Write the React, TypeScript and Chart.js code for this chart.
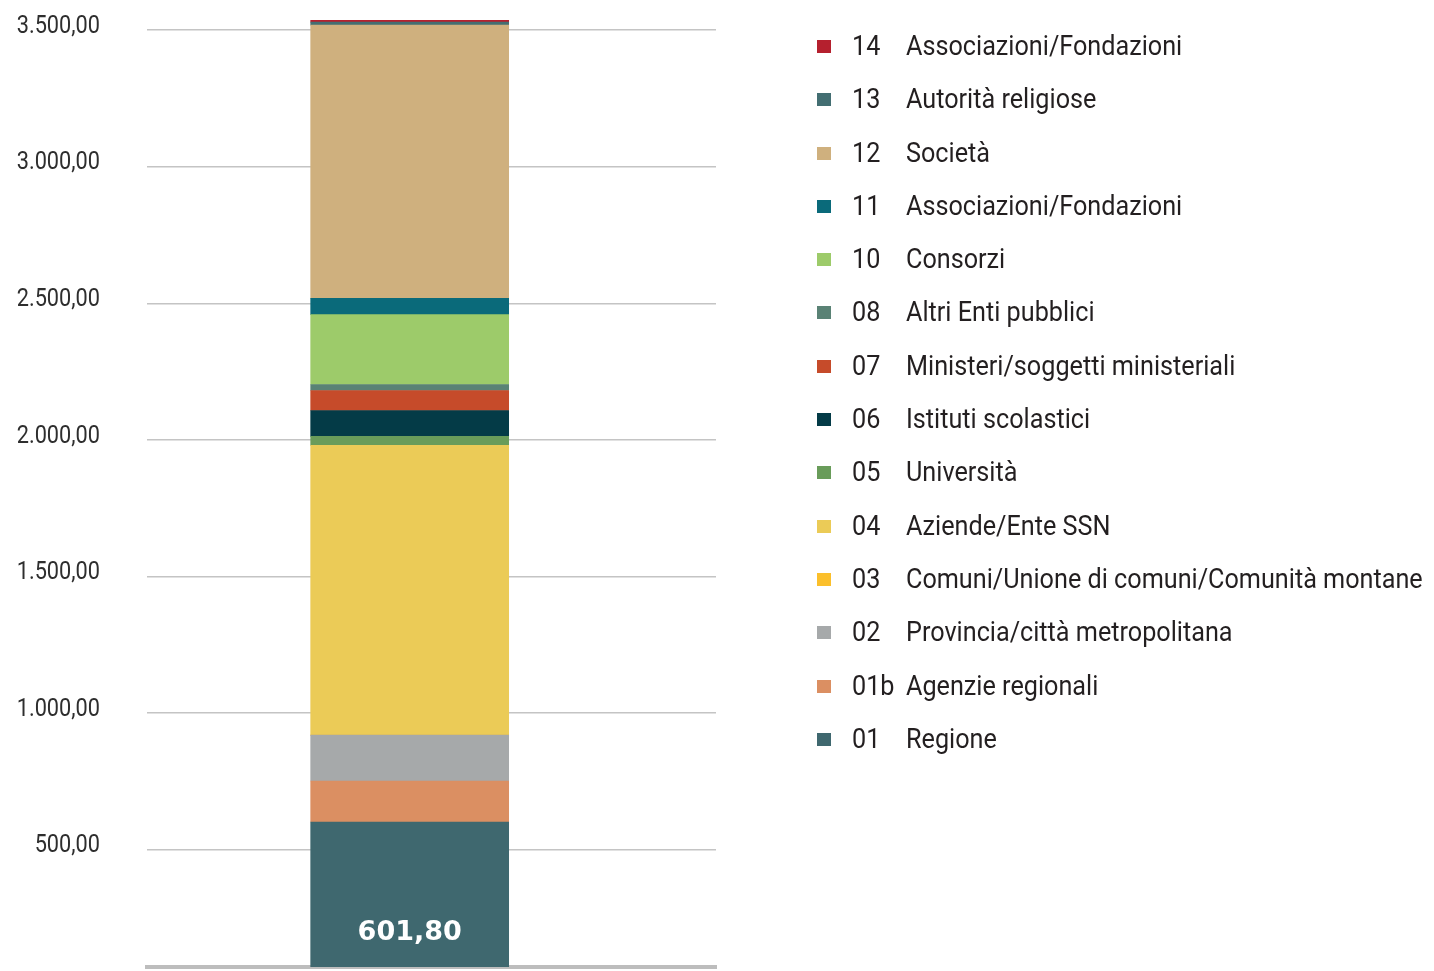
import React, { useEffect, useRef } from 'react';
import { Chart, registerables } from 'chart.js';

Chart.register(...registerables);

// ---- data (bottom of the stack first) ----
const codes = ['01', '01b', '02', '03', '04', '05', '06', '07', '08', '10', '11', '12', '13', '14'];
const categories = [
  'Regione',
  'Agenzie regionali',
  'Provincia/città metropolitana',
  'Comuni/Unione di comuni/Comunità montane',
  'Aziende/Ente SSN',
  'Università',
  'Istituti scolastici',
  'Ministeri/soggetti ministeriali',
  'Altri Enti pubblici',
  'Consorzi',
  'Associazioni/Fondazioni',
  'Società',
  'Autorità religiose',
  'Associazioni/Fondazioni',
];
const values = [601.8, 150, 168, 0, 1060, 33, 95, 73, 22, 256, 59, 1000, 11, 7];
const colors = [
  '#3f686f', '#db8f62', '#a6a9aa', '#fbbf2b', '#ebcb57', '#699c5a', '#043b47',
  '#c64b2a', '#5a8275', '#9dcb6a', '#0a6a7a', '#cfb07e', '#436e72', '#b5202e',
];
const yTickValues = [500, 1000, 1500, 2000, 2500, 3000, 3500];
const labelledCodes = ['01'];

const FONT = 'Roboto, "Noto Sans", sans-serif';

function fmtIt(v: number): string {
  const [i, d] = v.toFixed(2).split('.');
  return i.replace(/\B(?=(\d{3})+(?!\d))/g, '.') + ',' + d;
}

// value label inside the Regione segment
const valueLabelPlugin = {
  id: 'valueLabel',
  afterDatasetsDraw(chart: any) {
    const ctx = chart.ctx;
    const bottom = chart.chartArea.bottom;
    chart.data.datasets.forEach((ds: any, i: number) => {
      if (!labelledCodes.includes(codes[i])) return;
      const meta = chart.getDatasetMeta(i);
      meta.data.forEach((el: any, j: number) => {
        const v = ds.data[j].y;
        ctx.save();
        ctx.fillStyle = '#ffffff';
        ctx.font = 'bold 27px "DejaVu Sans", sans-serif';
        ctx.textAlign = 'center';
        ctx.textBaseline = 'middle';
        ctx.fillText(fmtIt(v), el.x, Math.min(el.base, bottom) - 34);
        ctx.restore();
      });
    });
  },
};

// condensed y-axis tick labels
const yLabelPlugin = {
  id: 'yCondensedLabels',
  afterDraw(chart: any) {
    const s = chart.scales.y;
    const ctx = chart.ctx;
    ctx.save();
    ctx.font = '26.5px Roboto, "Noto Sans", sans-serif';
    ctx.fillStyle = '#2e2e2e';
    ctx.textAlign = 'right';
    ctx.textBaseline = 'middle';
    s.ticks.forEach((t: any) => {
      const y = s.getPixelForValue(t.value) - 4;
      ctx.save();
      ctx.translate(s.right - 47, y);
      ctx.scale(0.82, 1);
      ctx.fillText(fmtIt(t.value), 0, 0);
      ctx.restore();
    });
    ctx.restore();
  },
};

export default function App() {
  const canvasRef = useRef<HTMLCanvasElement | null>(null);

  useEffect(() => {
    if (!canvasRef.current) return;
    const chart = new Chart(canvasRef.current, {
      type: 'bar',
      data: {
        datasets: values.map((v, i) => ({
          label: codes[i] + ' ' + categories[i],
          data: [{ x: 0, y: v }],
          backgroundColor: colors[i],
          borderWidth: 0,
          barThickness: 198,
        })),
      },
      options: {
        animation: false,
        responsive: false,
        layout: { padding: { top: 0, right: 718, bottom: 0, left: 0 } },
        plugins: {
          legend: { display: false },
          tooltip: { enabled: false },
        },
        scales: {
          x: {
            type: 'linear',
            stacked: true,
            min: -0.454,
            max: 0.546,
            ticks: { display: false },
            grid: { display: false, drawTicks: false },
            border: { display: true, color: '#bdbdbd', width: 4 },
            afterFit: (s: any) => {
              s.height = 4;
              s.paddingLeft = 0;
              s.paddingRight = 0;
            },
          },
          y: {
            stacked: true,
            min: 71,
            max: 3610,
            afterBuildTicks: (axis: any) => {
              axis.ticks = yTickValues.map((v) => ({ value: v }));
            },
            ticks: { display: false },
            grid: { color: '#c4c4c4', lineWidth: 1.5, drawTicks: false },
            border: { display: false },
            afterFit: (s: any) => {
              s.width = 147;
              s.paddingTop = 0;
              s.paddingBottom = 0;
            },
          },
        },
      },
      plugins: [valueLabelPlugin, yLabelPlugin],
    });
    return () => chart.destroy();
  }, []);

  const legendRows = codes.map((c, i) => ({ code: c, name: categories[i], color: colors[i] })).reverse();

  return (
    <div style={{ position: 'absolute', left: 0, top: 0, width: 1434, height: 971, background: '#ffffff' }}>
      <canvas ref={canvasRef} width={1434} height={971} style={{ position: 'absolute', left: 0, top: 0, width: 1434, height: 971 }} />
      <div style={{ position: 'absolute', left: 0, top: 19, width: 1434, fontFamily: FONT, fontSize: 28, color: '#231f20' }}>
        {legendRows.map((r, i) => (
          <div key={i} style={{ position: 'relative', height: 53.3, whiteSpace: 'nowrap' }}>
            <span style={{ position: 'absolute', left: 817, top: 21, width: 14, height: 13, background: r.color }} />
            <span style={{ position: 'absolute', left: 852, top: 0, lineHeight: '53.3px', transform: 'scaleX(0.9)', transformOrigin: 'left center' }}>{r.code}</span>
            <span style={{ position: 'absolute', left: 906, top: 0, lineHeight: '53.3px', transform: 'scaleX(0.9)', transformOrigin: 'left center' }}>{r.name}</span>
          </div>
        ))}
      </div>
    </div>
  );
}
